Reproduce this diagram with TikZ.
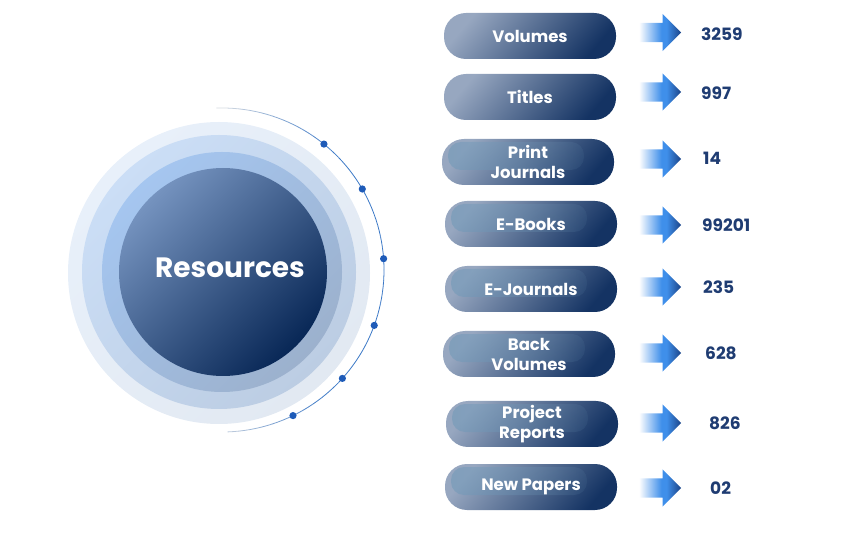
\documentclass[tikz,border=0pt]{standalone}
\usepackage{fontspec}
\setmainfont{Poppins}
\usetikzlibrary{shapes.arrows,fadings}
\definecolor{pillA}{HTML}{97A7C0}
\definecolor{pillB}{HTML}{143363}
\definecolor{hlcol}{HTML}{6E98B8}
\definecolor{arrowblue}{HTML}{3F8FEA}
\definecolor{arrownavy}{HTML}{1A4387}
\definecolor{numcol}{HTML}{1F3C72}
\definecolor{ringAa}{HTML}{E8F0FA}
\definecolor{ringAb}{HTML}{E2E9F2}
\definecolor{ringBa}{HTML}{CBDEF6}
\definecolor{ringBb}{HTML}{BCCDE3}
\definecolor{ringCa}{HTML}{A5C6F0}
\definecolor{ringCb}{HTML}{9CB1CD}
\definecolor{darkA}{HTML}{7593BF}
\definecolor{darkB}{HTML}{082756}
\definecolor{arcblue}{HTML}{3B78C6}
\definecolor{arcgray}{HTML}{D5DAE0}
\definecolor{dotblue}{HTML}{1E5BB8}
\pgfdeclarehorizontalshading{arrowshade}{100bp}{color(0bp)=(white); color(26bp)=(white); color(52bp)=(arrowblue); color(58bp)=(arrowblue); color(75bp)=(arrownavy); color(100bp)=(arrownavy)}
\tikzset{
  pill/.style={rounded corners=22pt, minimum width=172pt, minimum height=46pt, inner sep=0pt,
    top color=pillA, bottom color=pillB, shading angle=50, text=white, align=center,
    font=\fontsize{16.5}{20}\selectfont\bfseries},
  pillh/.style={pill, path picture={\fill[hlcol, opacity=0.55, path fading=east, rounded corners=13pt]
    ([shift={(6pt,-3pt)}]path picture bounding box.north west) rectangle
    ([shift={(-30pt,-31pt)}]path picture bounding box.north east);}},
  arr/.style={shape=single arrow, shade, shading=arrowshade, minimum height=43pt,
    single arrow head extend=9pt, single arrow head indent=0pt, inner xsep=0pt, inner ysep=9.5pt},
  num/.style={anchor=west, text=numcol, inner sep=0pt, font=\fontsize{17}{19}\selectfont\bfseries},
}
\begin{document}
\begin{tikzpicture}[x=1pt,y=1pt]
\useasboundingbox (0,0) rectangle (857,-534);
% concentric rings
\shade[top color=ringAa, bottom color=ringAb, shading angle=45] (219,-273) circle (151);
\shade[top color=ringBa, bottom color=ringBb, shading angle=45] (219,-272) circle (137);
\shade[top color=ringCa, bottom color=ringCb, shading angle=45] (222,-272) circle (120);
\shade[top color=darkA, bottom color=darkB, shading angle=45] (223,-272) circle (104);
\node[text=white, font=\fontsize{28}{30}\selectfont\bfseries] (res) at (230,-268) {Resources};
% arc
\foreach \a in {92,88,...,-84}{
  \pgfmathsetmacro\m{min(100,max(0,100*(92-abs(\a))/42))}
  \draw[line width=0.8pt, color=arcblue!\m!arcgray] ({222+162*cos(\a)},{-270+162*sin(\a)}) arc[start angle=\a, end angle=\a-4, radius=162];
}
\foreach \a in {51,30,4,-20,-42,-64}
  \fill[dotblue] ({222+162*cos(\a)},{-270+162*sin(\a)}) circle (3.6);
% pills
\node[pill]  (p1) at (530,-36)  {Volumes};
\node[pill]  (p2) at (530,-97)  {Titles};
\node[pillh] (p3) at (528,-162) {Print\\Journals};
\node[pillh] (p4) at (531,-224) {E-Books};
\node[pillh] (p5) at (531,-289) {E-Journals};
\node[pillh] (p6) at (529,-354) {Back\\Volumes};
\node[pillh] (p7) at (532,-424) {Project\\Reports};
\node[pillh] (p8) at (531,-487) {New Papers};
% arrows
\node[arr, anchor=tail] (a1) at (638,-32.5) {};
\node[arr, anchor=tail] (a2) at (638,-92) {};
\node[arr, anchor=tail] (a3) at (638,-159) {};
\node[arr, anchor=tail] (a4) at (638,-225) {};
\node[arr, anchor=tail] (a5) at (638,-287) {};
\node[arr, anchor=tail] (a6) at (638,-353) {};
\node[arr, anchor=tail] (a7) at (638,-423) {};
\node[arr, anchor=tail] (a8) at (638,-488) {};
% numbers
\node[num] (n1) at (701,-34)  {3259};
\node[num] (n2) at (701,-93)  {997};
\node[num] (n3) at (703,-158) {14};
\node[num] (n4) at (702,-225) {99201};
\node[num] (n5) at (703,-287) {235};
\node[num] (n6) at (705,-353) {628};
\node[num] (n7) at (709,-423) {826};
\node[num] (n8) at (710,-488) {02};
\end{tikzpicture}
\end{document}
